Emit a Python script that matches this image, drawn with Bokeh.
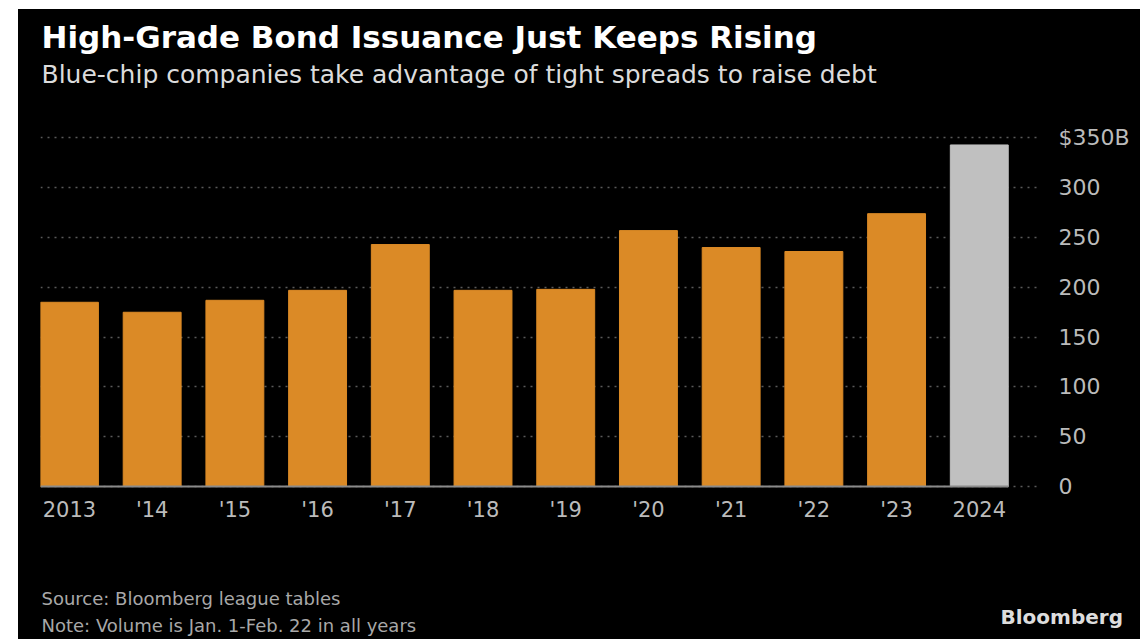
from bokeh.plotting import figure
from bokeh.models import Range1d, FixedTicker, Spacer, ColumnDataSource
from bokeh.core.properties import value
from bokeh.layouts import column, row
from bokeh.embed import file_html
from bokeh.resources import INLINE

years = ["2013", "'14", "'15", "'16", "'17", "'18", "'19", "'20", "'21", "'22", "'23", "2024"]
volumes = [185, 175, 187, 197, 243, 197, 198, 257, 240, 236, 274, 343]
bar_colors = ["#DB8A26"] * 11 + ["#C0C0C0"]
y_ticks = [0, 50, 100, 150, 200, 250, 300, 350]
y_tick_labels = ["0", "50", "100", "150", "200", "250", "300", "$350B"]

title = "High-Grade Bond Issuance Just Keeps Rising"
subtitle = "Blue-chip companies take advantage of tight spreads to raise debt"
source = "Source: Bloomberg league tables"
note = "Note: Volume is Jan. 1-Feb. 22 in all years"
logo = "Bloomberg"

FONT = "DejaVu Sans"
W = 1122
BL, BR = 22, 100          # side borders -> frame at page x 40..1040
FW = W - BL - BR
idx = list(range(len(years)))


def blank(top, bottom, yloc=None):
    # a text panel whose data coordinates are page pixels
    f = figure(frame_width=FW, frame_height=bottom - top, output_backend="svg",
               toolbar_location=None,
               x_range=Range1d(40, 40 + FW), y_range=Range1d(bottom, top),
               x_axis_location=None, y_axis_location=yloc,
               min_border_left=BL, min_border_right=BR, min_border_top=0, min_border_bottom=0)
    f.background_fill_color = None
    f.border_fill_color = None
    f.outline_line_color = None
    f.grid.visible = False
    return f


def txt(f, text, x, y, size, color, bold=False, align="left"):
    f.text(x=[x], y=[y], text=[text], text_font=value(FONT), text_font_size=size,
           text_color=color, text_font_style="bold" if bold else "normal",
           text_align=align, text_baseline="alphabetic")


# header: page y 9..100
head = blank(9, 100)
txt(head, title, 41, 36, "31px", "#ffffff", bold=True)
txt(head, subtitle, 41, 73.5, "25px", "#dcdcdc")

# main chart: page y 100..570, frame page x 40..1040, y 134..490
X0, X1 = -0.35, 11.74
Y0, Y1 = -4, 353.5
p = figure(frame_width=FW, frame_height=356, output_backend="svg", toolbar_location=None,
           x_range=Range1d(X0, X1), y_range=Range1d(Y0, Y1),
           min_border_left=BL, min_border_right=BR, min_border_top=34, min_border_bottom=80,
           y_axis_location="right")
p.background_fill_color = None
p.border_fill_color = None
p.outline_line_color = None

src = ColumnDataSource(dict(x=idx, top=volumes, color=bar_colors))
p.vbar(x="x", top="top", bottom=0, width=0.7, fill_color="color", line_color="color", source=src)
p.segment(x0=[idx[0] - 0.35], x1=[idx[-1] + 0.35], y0=[0], y1=[0], line_color="#8a8a8a", line_width=2)

p.xgrid.grid_line_color = None
p.ygrid.ticker = FixedTicker(ticks=y_ticks)
p.ygrid.grid_line_color = "#5a5a5a"
p.ygrid.grid_line_dash = "2 5"
p.ygrid.grid_line_width = 1.5

xa = p.xaxis[0]
xa.ticker = FixedTicker(ticks=idx)
xa.major_label_overrides = {i: lab for i, lab in zip(idx, years)}
xa.axis_line_color = None
xa.major_tick_line_color = None
xa.minor_tick_line_color = None
xa.major_tick_out = 0
xa.major_label_standoff = 7
xa.major_label_text_font = FONT
xa.major_label_text_font_size = "21px"
xa.major_label_text_color = "#bbbbbb"

ya = p.yaxis[0]
ya.ticker = FixedTicker(ticks=y_ticks)
ya.major_label_overrides = {t: lab for t, lab in zip(y_ticks, y_tick_labels)}
ya.axis_line_color = None
ya.major_tick_line_color = None
ya.minor_tick_line_color = None
ya.major_tick_out = 0
ya.major_label_standoff = 18
ya.major_label_text_font = FONT
ya.major_label_text_font_size = "22px"
ya.major_label_text_color = "#bbbbbb"

# footer: page y 570..639; the logo is drawn as the label of a right-hand axis
foot = blank(570, 639, yloc="right")
txt(foot, source, 41, 597.5, "18px", "#a8a8a8")
txt(foot, note, 41, 624.5, "18px", "#a8a8a8")
fa = foot.yaxis[0]
fa.ticker = FixedTicker(ticks=[616])
fa.major_label_overrides = {616: logo}
fa.axis_line_color = None
fa.major_tick_line_color = None
fa.minor_tick_line_color = None
fa.major_tick_out = 0
fa.major_tick_in = 0
fa.major_label_standoff = -40
fa.major_label_text_align = "left"
fa.major_label_text_font = FONT
fa.major_label_text_font_style = "bold"
fa.major_label_text_font_size = "20px"
fa.major_label_text_color = "#dddddd"

inner = column(head, p, foot, spacing=0, styles={"background-color": "black"})
layout = column(Spacer(height=9), row(Spacer(width=18), inner, spacing=0), spacing=0)
open("out.html", "w").write(file_html(layout, INLINE))
